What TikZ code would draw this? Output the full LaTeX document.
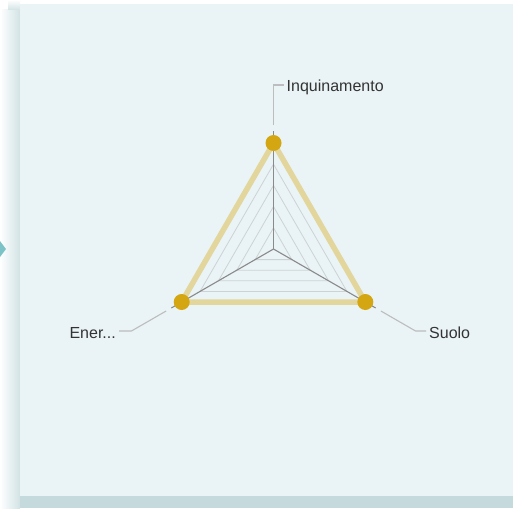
\documentclass[tikz,border=0pt]{standalone}
\usepackage{fontspec}
\setmainfont{Liberation Sans}
\definecolor{panelc}{HTML}{EAF3F5}
\definecolor{bandc}{HTML}{C5DADC}
\definecolor{shadowc}{HTML}{D2E3E5}
\definecolor{arrowc}{HTML}{7CC3C7}
\definecolor{gridgray}{HTML}{CDD3D5}
\definecolor{spokegray}{HTML}{8A8A8A}
\definecolor{leadgray}{HTML}{BDBDBD}
\definecolor{datayellow}{HTML}{E3D69C}
\definecolor{dotgold}{HTML}{D4A712}
\definecolor{labtext}{HTML}{333333}
\begin{document}
\begin{tikzpicture}[x=1pt,y=1pt,
  gridline/.style={draw=gridgray, line width=0.8pt, line join=miter},
  spoke/.style={draw=spokegray, line width=1.1pt},
  leader/.style={draw=leadgray, line width=1.1pt},
  datapoly/.style={draw=datayellow, line width=5.5pt, line join=round},
  vdot/.style={circle, fill=dotgold, minimum size=16pt, inner sep=0pt},
  lab/.style={font=\fontsize{16}{19}\selectfont, text=labtext, inner sep=3pt}]
\useasboundingbox (0,0) rectangle (513,-508);
\fill[white] (0,0) rectangle (513,-508);
\shade[left color=white, right color=shadowc] (0,-10) rectangle (20,-508);
\shade[top color=white, bottom color=shadowc] (8,0) rectangle (20,-10);
\fill[bandc] (20,-496) rectangle (513,-508);
\fill[panelc] (20,-4) rectangle (513,-496);
\fill[arrowc] (0,-241) -- (6,-249) -- (0,-257) -- cycle;
\begin{scope}[shift={(273.5,-249)}]
  \coordinate (C) at (0,0);
  \foreach \k in {1,...,5}{
    \draw[gridline] (90:21.2*\k) -- (210:21.2*\k) -- (330:21.2*\k) -- cycle;
  }
  \coordinate (eT) at (90:118);
  \coordinate (eL) at (210:118);
  \coordinate (eR) at (330:118);
  \draw[spoke] (C) -- (eT);
  \draw[spoke] (C) -- (eL);
  \draw[spoke] (C) -- (eR);
  \coordinate (pT) at (90:106);
  \coordinate (pL) at (210:106);
  \coordinate (pR) at (330:106);
  \draw[datapoly] (pT) -- (pL) -- (pR) -- cycle;
  \node[vdot] (vT) at (pT) {};
  \node[vdot] (vL) at (pL) {};
  \node[vdot] (vR) at (pR) {};
  \node[lab, anchor=base west] (inq) at (10,157) {Inquinamento};
  \node[lab, anchor=base east] (ener) at (-154.5,-89) {Ener...};
  \node[lab, anchor=base west] (suolo) at (152.5,-89) {Suolo};
  \coordinate (aT) at (90:124);
  \coordinate (bT) at (90:164);
  \coordinate (aL) at (210:124);
  \coordinate (bL) at (210:164);
  \coordinate (aR) at (330:124);
  \coordinate (bR) at (330:164);
  \draw[leader] (aT) -- (bT) -- (bT -| inq.west);
  \draw[leader] (aL) -- (bL) -- (bL -| ener.east);
  \draw[leader] (aR) -- (bR) -- (bR -| suolo.west);
\end{scope}
\end{tikzpicture}
\end{document}
